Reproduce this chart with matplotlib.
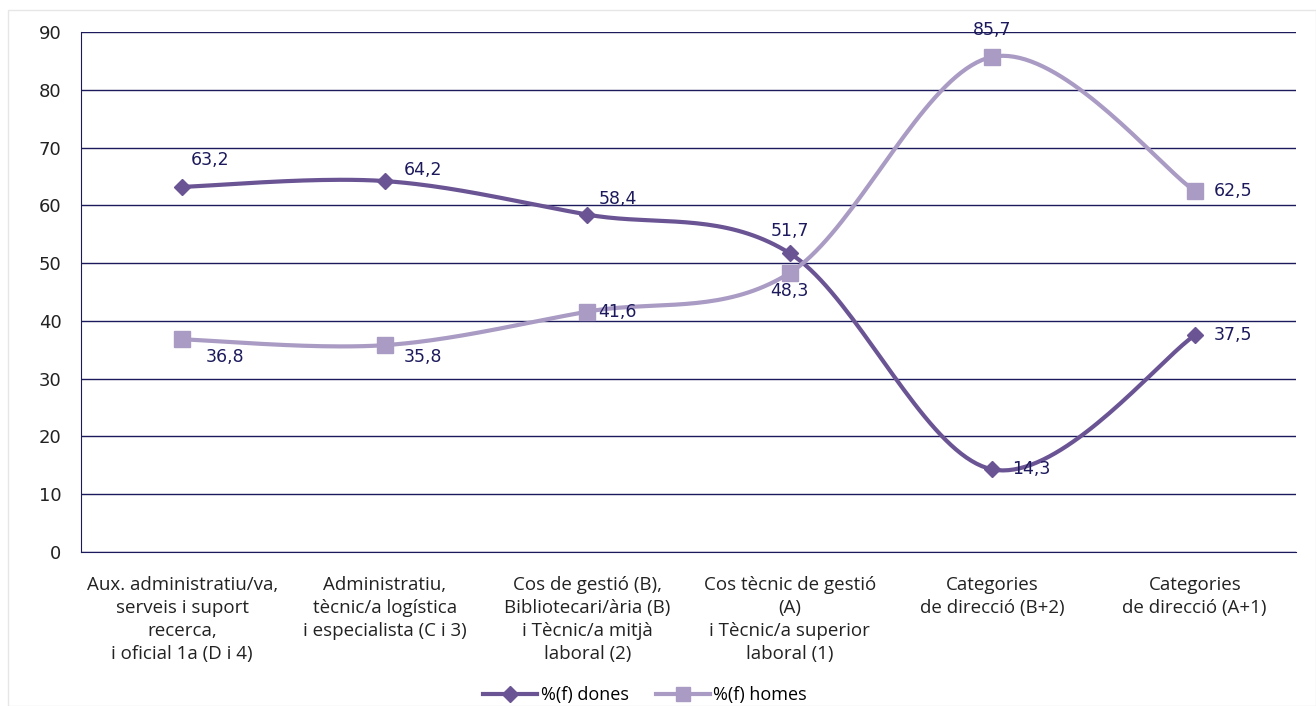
import numpy as np
import matplotlib.pyplot as plt
from matplotlib.patches import Rectangle

# categories and values (%)
categories = ["Aux. administratiu/va,\nserveis i suport\nrecerca,\ni oficial 1a (D i 4)",
              "Administratiu,\ntècnic/a logística\ni especialista (C i 3)",
              "Cos de gestió (B),\nBibliotecari/ària (B)\ni Tècnic/a mitjà\nlaboral (2)",
              "Cos tècnic de gestió\n(A)\ni Tècnic/a superior\nlaboral (1)",
              "Categories\nde direcció (B+2)",
              "Categories\nde direcció (A+1)"]
dones = [63.2, 64.2, 58.4, 51.7, 14.3, 37.5]
homes = [36.8, 35.8, 41.6, 48.3, 85.7, 62.5]

# label offsets in pixels (dx, dy)
dones_off = [(8, 27), (19, 11), (11, 16), (0, 22), (20, 0), (19, 0)]
homes_off = [(23, -18), (19, -12), (11, 0), (0, -18), (0, 27), (19, 0)]

c_dones = "#6a5494"
c_homes = "#a99bc3"
navy = "#1c1a5c"


def smooth(y, n=40):
    # Catmull-Rom style bezier like Excel smoothed lines
    x = np.arange(len(y), dtype=float)
    y = np.asarray(y, dtype=float)
    xs, ys = [], []
    for i in range(len(y) - 1):
        i0 = max(i - 1, 0)
        i3 = min(i + 2, len(y) - 1)
        p0, p1, p2, p3 = [np.array([x[k], y[k]]) for k in (i0, i, i + 1, i3)]
        c1 = p1 + (p2 - p0) / 6
        c2 = p2 - (p3 - p1) / 6
        t = np.linspace(0, 1, n)[:, None]
        pts = ((1 - t) ** 3) * p1 + 3 * ((1 - t) ** 2) * t * c1 + 3 * (1 - t) * t ** 2 * c2 + t ** 3 * p2
        xs.extend(pts[:, 0])
        ys.extend(pts[:, 1])
    return xs, ys


fig = plt.figure(figsize=(13.16, 7.06), dpi=100)
fig.patches.append(Rectangle((8 / 1316, 0), 1 - 8 / 1316, 1 - 10 / 706, transform=fig.transFigure,
                             fill=False, edgecolor="#e6e6e6", lw=1))
ax = fig.add_axes([81 / 1316, 154 / 706, 1215 / 1316, 520 / 706])

x = np.arange(len(categories))
sx, sy = smooth(dones)
ax.plot(sx, sy, color=c_dones, lw=3, zorder=3)
ax.plot(x, dones, linestyle="none", marker="D", ms=8, color=c_dones, zorder=4)
hx, hy = smooth(homes)
ax.plot(hx, hy, color=c_homes, lw=3, zorder=3)
ax.plot(x, homes, linestyle="none", marker="s", ms=11, color=c_homes, zorder=4)

for i in range(len(x)):
    dx, dy = dones_off[i]
    ax.annotate(f"{dones[i]:.1f}".replace(".", ","), (x[i], dones[i]), xytext=(dx, dy),
                textcoords="offset pixels", ha="left" if dx > 0 and i != 3 else "center",
                va="center", fontsize=12.5, color=navy, zorder=5)
    dx, dy = homes_off[i]
    ax.annotate(f"{homes[i]:.1f}".replace(".", ","), (x[i], homes[i]), xytext=(dx, dy),
                textcoords="offset pixels", ha="left" if dx > 0 else "center",
                va="center", fontsize=12.5, color=navy, zorder=5)

ax.set_xlim(-0.5, 5.5)
ax.set_ylim(0, 90)
ax.set_yticks(range(0, 91, 10))
ax.yaxis.grid(True, color=navy, lw=1)
ax.set_axisbelow(True)
for s in ["top", "right"]:
    ax.spines[s].set_visible(False)
ax.spines["left"].set_color(navy)
ax.spines["bottom"].set_color(navy)
ax.tick_params(axis="y", length=0, pad=14, labelsize=13, labelcolor="#222222")
ax.set_xticks(x)
ax.set_xticklabels(categories, fontsize=13.5, family="Open Sans", linespacing=1.37, color="#222222")
ax.tick_params(axis="x", length=0, pad=17)

handles = [plt.Line2D([], [], color=c_dones, lw=3, marker="D", ms=8),
           plt.Line2D([], [], color=c_homes, lw=3, marker="s", ms=10)]
fig.legend(handles, ["%(f) dones", "%(f) homes"], loc="center", bbox_to_anchor=(0.49, 0.015),
           ncol=2, frameon=False, handlelength=3, columnspacing=1.5, handletextpad=0.2,
           prop={"family": "Open Sans", "size": 13})

fig.savefig("out.png", dpi=100)
